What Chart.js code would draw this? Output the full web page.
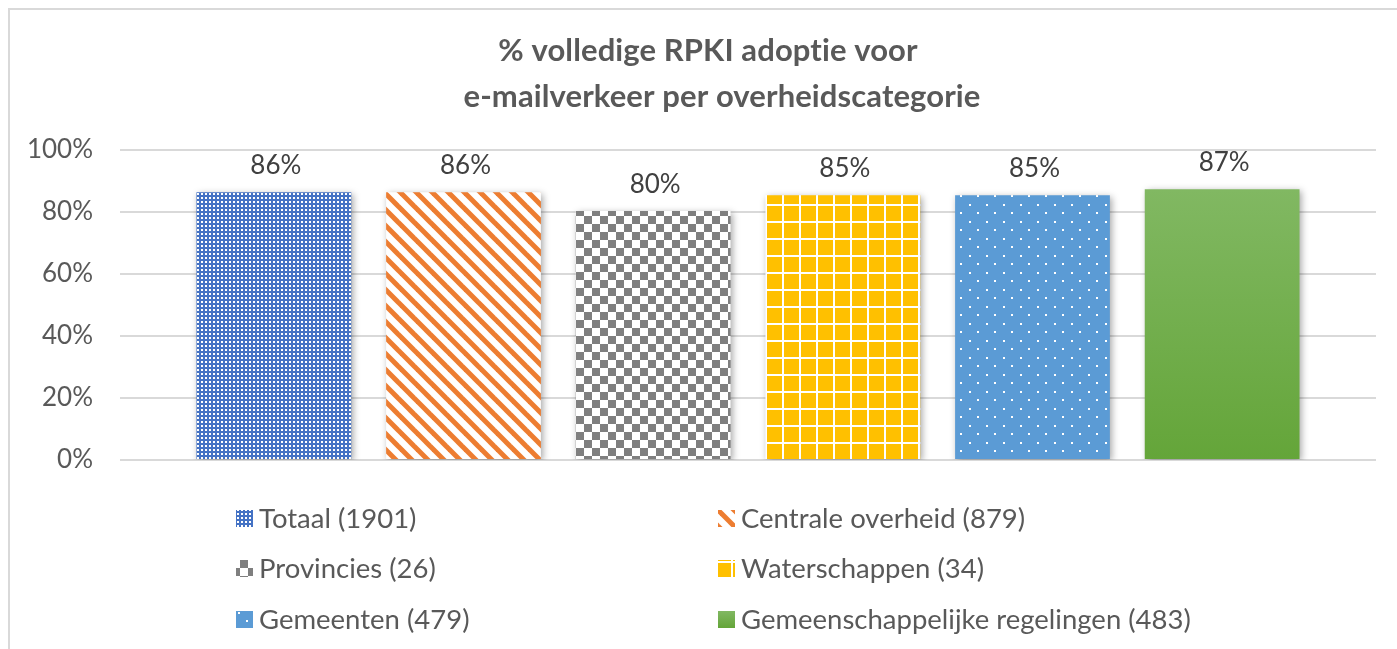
<!DOCTYPE html>
<html>
<head>
<meta charset="utf-8">
<script src="https://cdn.jsdelivr.net/npm/chart.js@4"></script>
<style>
    body { margin: 0; background: #fff; }
    #wrap { position: relative; width: 1397px; height: 649px; }
</style>
</head>
<body>
<div id="wrap"><canvas id="rpkiChart" width="1397" height="649"></canvas></div>
<script>
const categories = ['E-mailverkeer'];
const seriesNames = ['Totaal (1901)', 'Centrale overheid (879)', 'Provincies (26)', 'Waterschappen (34)', 'Gemeenten (479)', 'Gemeenschappelijke regelingen (483)'];
const seriesValues = [86.4, 86.4, 80.3, 85.4, 85.4, 87.3];
const seriesColors = ['#4472c4', '#ed7d31', '#7f7f7f', '#ffc000', '#5b9bd5', '#70ad47'];
const tickLabels = ['0%', '20%', '40%', '60%', '80%', '100%'];
const titleLines = ['% volledige RPKI adoptie voor', 'e-mailverkeer per overheidscategorie'];

const FONT = 'Lato, "Open Sans", sans-serif';

function makeTile(size, draw) {
    const c = document.createElement('canvas');
    c.width = size;
    c.height = size;
    draw(c.getContext('2d'), size);
    return c;
}

// patterns, one per series
const tiles = [
    makeTile(4, function (g, s) {
        g.fillStyle = seriesColors[0]; g.fillRect(0, 0, s, s);
        g.fillStyle = '#ffffff'; g.fillRect(1, 1, 2, 2);
    }),
    makeTile(16, function (g, s) {
        g.fillStyle = '#ffffff'; g.fillRect(0, 0, s, s);
        g.strokeStyle = seriesColors[1]; g.lineWidth = 5;
        for (let o = -s; o <= s; o += s) {
            g.beginPath(); g.moveTo(o - 2, -2); g.lineTo(o + s + 2, s + 2); g.stroke();
        }
    }),
    makeTile(16, function (g, s) {
        g.fillStyle = '#ffffff'; g.fillRect(0, 0, s, s);
        g.fillStyle = seriesColors[2];
        g.fillRect(0, 0, 8, 8); g.fillRect(8, 8, 8, 8);
    }),
    makeTile(17, function (g, s) {
        g.fillStyle = seriesColors[3]; g.fillRect(0, 0, s, s);
        g.fillStyle = '#ffffff';
        g.fillRect(0, 0, s, 2); g.fillRect(0, 0, 2, s);
    }),
    makeTile(17, function (g, s) {
        g.fillStyle = seriesColors[4]; g.fillRect(0, 0, s, s);
        g.fillStyle = '#ffffff';
        g.fillRect(0, 0, 2, 2); g.fillRect(8, 8, 2, 2);
    }),
    null
];

const canvas = document.getElementById('rpkiChart');
const ctx = canvas.getContext('2d');

function fillFor(i, top, bottom) {
    if (tiles[i]) return ctx.createPattern(tiles[i], 'repeat');
    if (!isFinite(top) || !isFinite(bottom) || top === bottom) return seriesColors[i];
    const grad = ctx.createLinearGradient(0, top, 0, bottom);
    grad.addColorStop(0, '#81b862');
    grad.addColorStop(1, '#64a539');
    return grad;
}

const decorations = {
    id: 'decorations',
    beforeDatasetsDraw(chart) {
        const c = chart.ctx;
        c.save();
        c.shadowColor = 'rgba(0,0,0,0.35)';
        c.shadowBlur = 7;
        c.shadowOffsetX = 2;
        c.shadowOffsetY = 2;
    },
    afterDatasetsDraw(chart) {
        const c = chart.ctx;
        c.restore();
        // value labels
        c.save();
        c.font = '26px ' + FONT;
        c.fillStyle = '#404040';
        c.textAlign = 'center';
        c.textBaseline = 'alphabetic';
        chart.data.datasets.forEach(function (ds, i) {
            const bar = chart.getDatasetMeta(i).data[0];
            c.fillText(Math.round(ds.data[0]) + '%', bar.x + 2, bar.y - 18);
        });
        c.restore();
    },
    afterDraw(chart) {
        const c = chart.ctx;
        c.save();
        // outer border (top and left only visible)
        c.strokeStyle = '#d9d9d9';
        c.lineWidth = 2;
        c.beginPath();
        c.moveTo(9, 649); c.lineTo(9, 9); c.lineTo(1397, 9);
        c.stroke();

        // title (tiny letter spacing keeps "ti" from turning into a ligature)
        c.font = 'bold 31px ' + FONT;
        if ('letterSpacing' in c) c.letterSpacing = '0.1px';
        c.fillStyle = '#595959';
        c.textAlign = 'center';
        c.textBaseline = 'alphabetic';
        c.fillText(titleLines[0], 708, 61);
        c.fillText(titleLines[1], 722, 107);
        if ('letterSpacing' in c) c.letterSpacing = '0px';

        // legend in two columns
        const colX = [236, 718];
        const rowY = [518, 568, 619];
        c.font = '27.5px ' + FONT;
        c.textAlign = 'left';
        c.textBaseline = 'middle';
        seriesNames.forEach(function (name, i) {
            const x = colX[i % 2];
            const y = rowY[Math.floor(i / 2)];
            c.fillStyle = fillFor(i, y - 8, y + 9);
            c.fillRect(x, y - 8, 17, 17);
            c.fillStyle = '#595959';
            c.fillText(name, x + 23, y + 1);
        });
        c.restore();
    }
};

const chart = new Chart(ctx, {
    type: 'bar',
    data: {
        labels: categories,
        datasets: seriesNames.map(function (name, i) {
            return {
                label: name,
                data: [seriesValues[i]],
                backgroundColor: function (context) {
                    const area = context.chart.chartArea;
                    const yScale = context.chart.scales.y;
                    if (!area || !yScale) return seriesColors[i];
                    return fillFor(i, yScale.getPixelForValue(seriesValues[i]), area.bottom);
                },
                borderWidth: 0,
                barPercentage: 0.816,
                categoryPercentage: 0.906
            };
        })
    },
    options: {
        responsive: false,
        animation: false,
        layout: { padding: { left: 20, right: 21, top: 150, bottom: 189 } },
        plugins: {
            legend: { display: false },
            title: { display: false },
            tooltip: { enabled: false }
        },
        scales: {
            x: { display: false },
            y: {
                min: 0,
                max: 100,
                afterFit(scale) { scale.width = 100; },
                afterBuildTicks(scale) {
                    scale.ticks = tickLabels.map(function (t) { return { value: parseFloat(t) }; });
                },
                ticks: {
                    padding: 27,
                    color: '#595959',
                    font: { family: FONT, size: 26 },
                    callback: function (v) { return v + '%'; }
                },
                grid: { color: '#d9d9d9', lineWidth: 2, drawTicks: false },
                border: { display: false }
            }
        }
    },
    plugins: [decorations]
});
</script>
</body>
</html>
